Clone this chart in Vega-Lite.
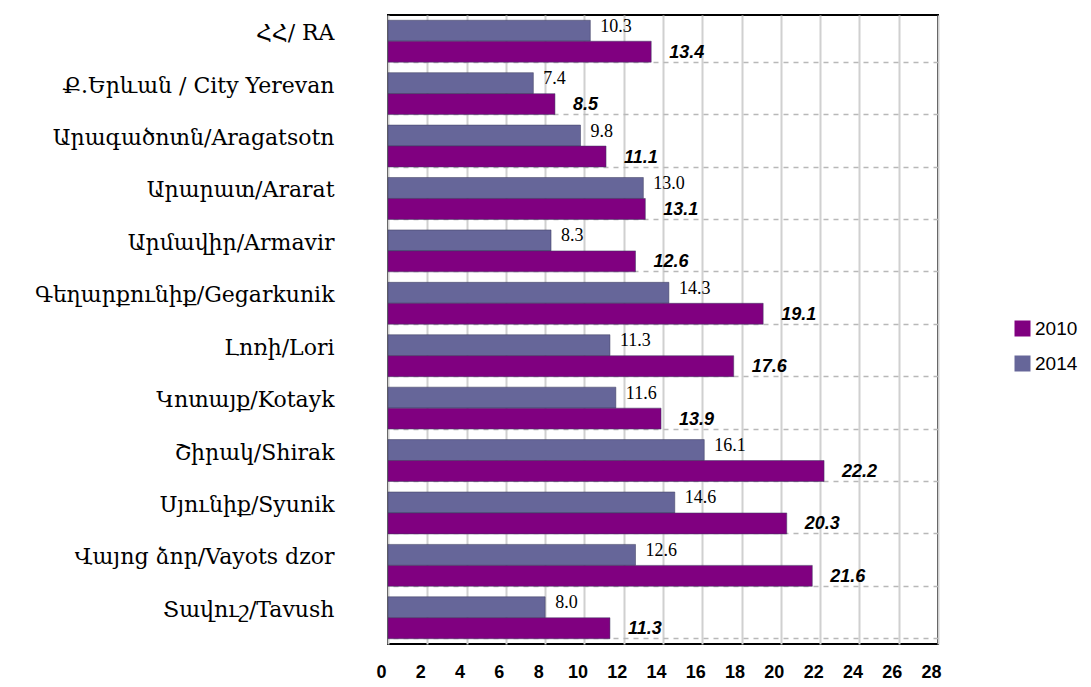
{
  "$schema": "https://vega.github.io/schema/vega-lite/v6.json",
  "autosize": {"type": "none"},
  "width": 550,
  "height": 629,
  "padding": {"left": 388, "top": 15, "right": 153, "bottom": 43},
  "background": "white",
  "config": {
    "view": {"stroke": "black", "strokeWidth": 2},
    "axis": {"labelColor": "black"}
  },
  "data": {
    "values": [
      {"region": "ՀՀ/ RA", "year": "2014", "value": 10.3},
      {"region": "ՀՀ/ RA", "year": "2010", "value": 13.4},
      {"region": "Ք.Երևան / City Yerevan", "year": "2014", "value": 7.4},
      {"region": "Ք.Երևան / City Yerevan", "year": "2010", "value": 8.5},
      {"region": "Արագածոտն/Aragatsotn", "year": "2014", "value": 9.8},
      {"region": "Արագածոտն/Aragatsotn", "year": "2010", "value": 11.1},
      {"region": "Արարատ/Ararat", "year": "2014", "value": 13.0},
      {"region": "Արարատ/Ararat", "year": "2010", "value": 13.1},
      {"region": "Արմավիր/Armavir", "year": "2014", "value": 8.3},
      {"region": "Արմավիր/Armavir", "year": "2010", "value": 12.6},
      {"region": "Գեղարքունիք/Gegarkunik", "year": "2014", "value": 14.3},
      {"region": "Գեղարքունիք/Gegarkunik", "year": "2010", "value": 19.1},
      {"region": "Լոռի/Lori", "year": "2014", "value": 11.3},
      {"region": "Լոռի/Lori", "year": "2010", "value": 17.6},
      {"region": "Կոտայք/Kotayk", "year": "2014", "value": 11.6},
      {"region": "Կոտայք/Kotayk", "year": "2010", "value": 13.9},
      {"region": "Շիրակ/Shirak", "year": "2014", "value": 16.1},
      {"region": "Շիրակ/Shirak", "year": "2010", "value": 22.2},
      {"region": "Սյունիք/Syunik", "year": "2014", "value": 14.6},
      {"region": "Սյունիք/Syunik", "year": "2010", "value": 20.3},
      {"region": "Վայոց ձոր/Vayots dzor", "year": "2014", "value": 12.6},
      {"region": "Վայոց ձոր/Vayots dzor", "year": "2010", "value": 21.6},
      {"region": "Տավուշ/Tavush", "year": "2014", "value": 8.0},
      {"region": "Տավուշ/Tavush", "year": "2010", "value": 11.3}
    ]
  },
  "encoding": {
    "y": {
      "field": "region",
      "type": "nominal",
      "sort": null,
      "scale": {"paddingInner": 0.2, "paddingOuter": 0.1},
      "axis": null
    },
    "x": {
      "field": "value",
      "type": "quantitative",
      "scale": {"domain": [0, 28], "nice": false, "zero": true},
      "axis": {
        "title": null,
        "values": [0, 2, 4, 6, 8, 10, 12, 14, 16, 18, 20, 22, 24, 26, 28],
        "grid": true,
        "gridColor": "#d0d0d0",
        "gridWidth": 2,
        "domain": false,
        "ticks": false,
        "labelFont": "Liberation Sans",
        "labelFontWeight": "bold",
        "labelFontSize": 18,
        "labelPadding": 19,
        "labelOffset": -7,
        "labelFlush": false,
        "labelOverlap": false
      }
    },
    "yOffset": {
      "field": "year",
      "type": "nominal",
      "scale": {"domain": ["2014", "2010"], "paddingInner": 0, "paddingOuter": 0}
    }
  },
  "layer": [
    {
      "mark": {"type": "bar", "stroke": "#3a3a5c", "strokeWidth": 0.5},
      "encoding": {
        "y": {
          "field": "region",
          "type": "nominal",
          "sort": null,
          "axis": {
            "title": null,
            "orient": "left",
            "domain": false,
            "ticks": false,
            "grid": false,
            "labelFont": "DejaVu Serif",
            "labelFontSize": 22,
            "labelPadding": 54,
            "labelOffset": -8,
            "labelLimit": 400
          }
        },
        "color": {
          "field": "year",
          "type": "nominal",
          "scale": {"domain": ["2010", "2014"], "range": ["#800080", "#666699"]},
          "legend": {
            "title": null,
            "orient": "none",
            "legendX": 625,
            "legendY": 304,
            "symbolType": "square",
            "symbolSize": 256,
            "symbolStrokeWidth": 0,
            "symbolOpacity": 1,
            "labelFont": "Liberation Sans",
            "labelFontSize": 19,
            "labelColor": "black",
            "rowPadding": 15,
            "labelOffset": 3
          }
        }
      }
    },
    {
      "transform": [{"filter": "datum.year == '2014'"}],
      "mark": {"type": "text", "align": "left", "baseline": "middle", "dx": 10, "dy": -4, "font": "Liberation Serif", "fontSize": 18, "color": "black"},
      "encoding": {
        "text": {"field": "value", "type": "quantitative", "format": ".1f"},
        "y": {
          "field": "region",
          "type": "nominal",
          "sort": null,
          "axis": {
            "title": null,
            "orient": "right",
            "labels": false,
            "ticks": false,
            "domain": false,
            "grid": true,
            "bandPosition": 1,
            "gridDash": [5, 5],
            "gridColor": "#b8b8b8",
            "gridWidth": 1.5
          }
        }
      }
    },
    {
      "transform": [{"filter": "datum.year == '2010'"}],
      "mark": {"type": "text", "align": "left", "baseline": "middle", "dx": 18, "dy": 1, "font": "Liberation Sans", "fontSize": 18, "fontWeight": "bold", "fontStyle": "italic", "color": "black"},
      "encoding": {
        "text": {"field": "value", "type": "quantitative", "format": ".1f"}
      }
    }
  ],
  "resolve": {"axis": {"y": "independent"}}
}
